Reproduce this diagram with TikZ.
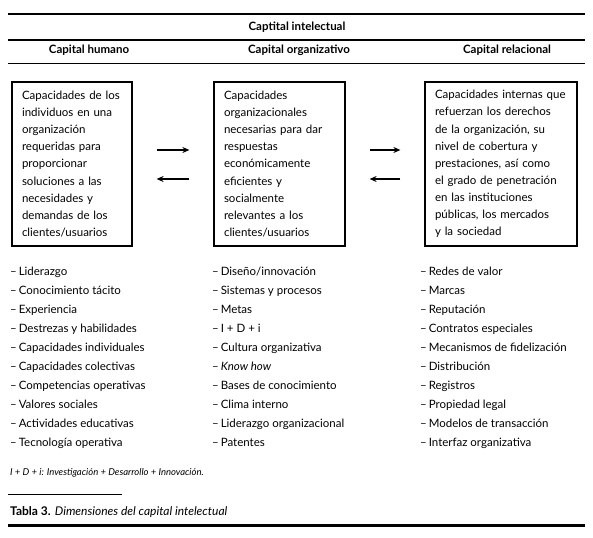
\documentclass[tikz,border=0pt]{standalone}
\usepackage{fontspec}
\setmainfont{Lato}
\usetikzlibrary{arrows.meta}

\tikzset{
  capbox/.style={draw, line width=1.2pt, align=left, inner xsep=5pt, minimum height=164pt,
    font=\fontsize{11.5}{17.1}\selectfont},
  colhead/.style={inner sep=0pt, font=\fontsize{11.5}{14}\selectfont\bfseries},
  item/.style={anchor=base west, inner sep=0pt, font=\fontsize{11.5}{14}\selectfont},
  flow/.style={-{Stealth[length=7pt,width=6pt]}, line width=1.3pt, shorten <=24pt, shorten >=24pt},
}

\begin{document}
\begin{tikzpicture}[x=1pt, y=-1pt]
    \useasboundingbox (0,0) rectangle (593,537);

    % encabezado
    \draw[line width=1.6pt] (8,14) -- (585,14);
    \node[colhead] (titulo) at (297,27) {Captital intelectual};
    \draw[line width=1.6pt] (8,40) -- (585,40);
    \node[colhead] (h-hum) at (89,50) {Capital humano};
    \node[colhead] (h-org) at (299,50) {Capital organizativo};
    \node[colhead] (h-rel) at (507,50) {Capital relacional};
    \draw[line width=0.6pt] (8,63) -- (585,63);

    % cajas
    \node[capbox, text width=110pt] (hum) at (72,164) {\leftskip=5pt\hangindent=6pt\hangafter=1
      Capacidades de los\\ individuos en una\\ organización\\ requeridas para\\ proporcionar\\
      soluciones a las\\ necesidades y\\ demandas de los\\ clientes/usuarios\par};
    \node[capbox, text width=121pt] (org) at (279.5,164) {\leftskip=5pt\hangindent=6pt\hangafter=1
      Capacidades\\ organizacionales\\ necesarias para dar\\ respuestas\\ económicamente\\
      eficientes y\\ socialmente\\ relevantes a los\\ clientes/usuarios\par};
    \node[capbox, text width=142pt] (rel) at (501,164) {\leftskip=5pt\hangindent=8pt\hangafter=1
      Capacidades internas que\\ refuerzan los derechos\\ de la organización, su\\ nivel de cobertura y\\
      prestaciones, así como\\ el grado de penetración\\ en las instituciones\\ públicas, los mercados\\ y la sociedad\par};

    % flechas
    \draw[flow] ([yshift=14pt]hum.east) -- ([yshift=14pt]org.west);
    \draw[flow] ([yshift=-15pt]org.west) -- ([yshift=-15pt]hum.east);
    \draw[flow] ([yshift=14pt]org.east) -- ([yshift=14pt]rel.west);
    \draw[flow] ([yshift=-15pt]rel.west) -- ([yshift=-15pt]org.east);

    % listas
    \foreach \txt [count=\i from 0] in {Liderazgo, Conocimiento tácito, Experiencia,
        Destrezas y habilidades, Capacidades individuales, Capacidades colectivas,
        Competencias operativas, Valores sociales, Actividades educativas, Tecnología operativa}
      \node[item] (hum-\i) at (10,{275+19.1*\i}) {–\,\txt};
    \foreach \txt [count=\i from 0] in {Diseño/innovación, Sistemas y procesos, Metas,
        I + D + i, Cultura organizativa, {\textit{Know how}}, Bases de conocimiento,
        Clima interno, Liderazgo organizacional, Patentes}
      \node[item] (org-\i) at (212,{275+19.1*\i}) {–\,\txt};
    \foreach \txt [count=\i from 0] in {Redes de valor, Marcas, Reputación, Contratos especiales,
        Mecanismos de fidelización, Distribución, Registros, Propiedad legal,
        Modelos de transacción, Interfaz organizativa}
      \node[item] (rel-\i) at (420,{275+19.1*\i}) {–\,\txt};

    % nota y pie
    \node[item, font=\fontsize{9.5}{11}\selectfont\itshape] (nota) at (10,475)
      {I + D + i: Investigación + Desarrollo + Innovación.};
    \draw[line width=0.6pt] (8,494) -- (122,494);
    \node[item, font=\fontsize{12}{14}\selectfont] (pie) at (10,515)
      {\textbf{Tabla 3.} \textit{Dimensiones del capital intelectual}};
    \draw[line width=3pt] (8,525) -- (585,525);
\end{tikzpicture}
\end{document}
